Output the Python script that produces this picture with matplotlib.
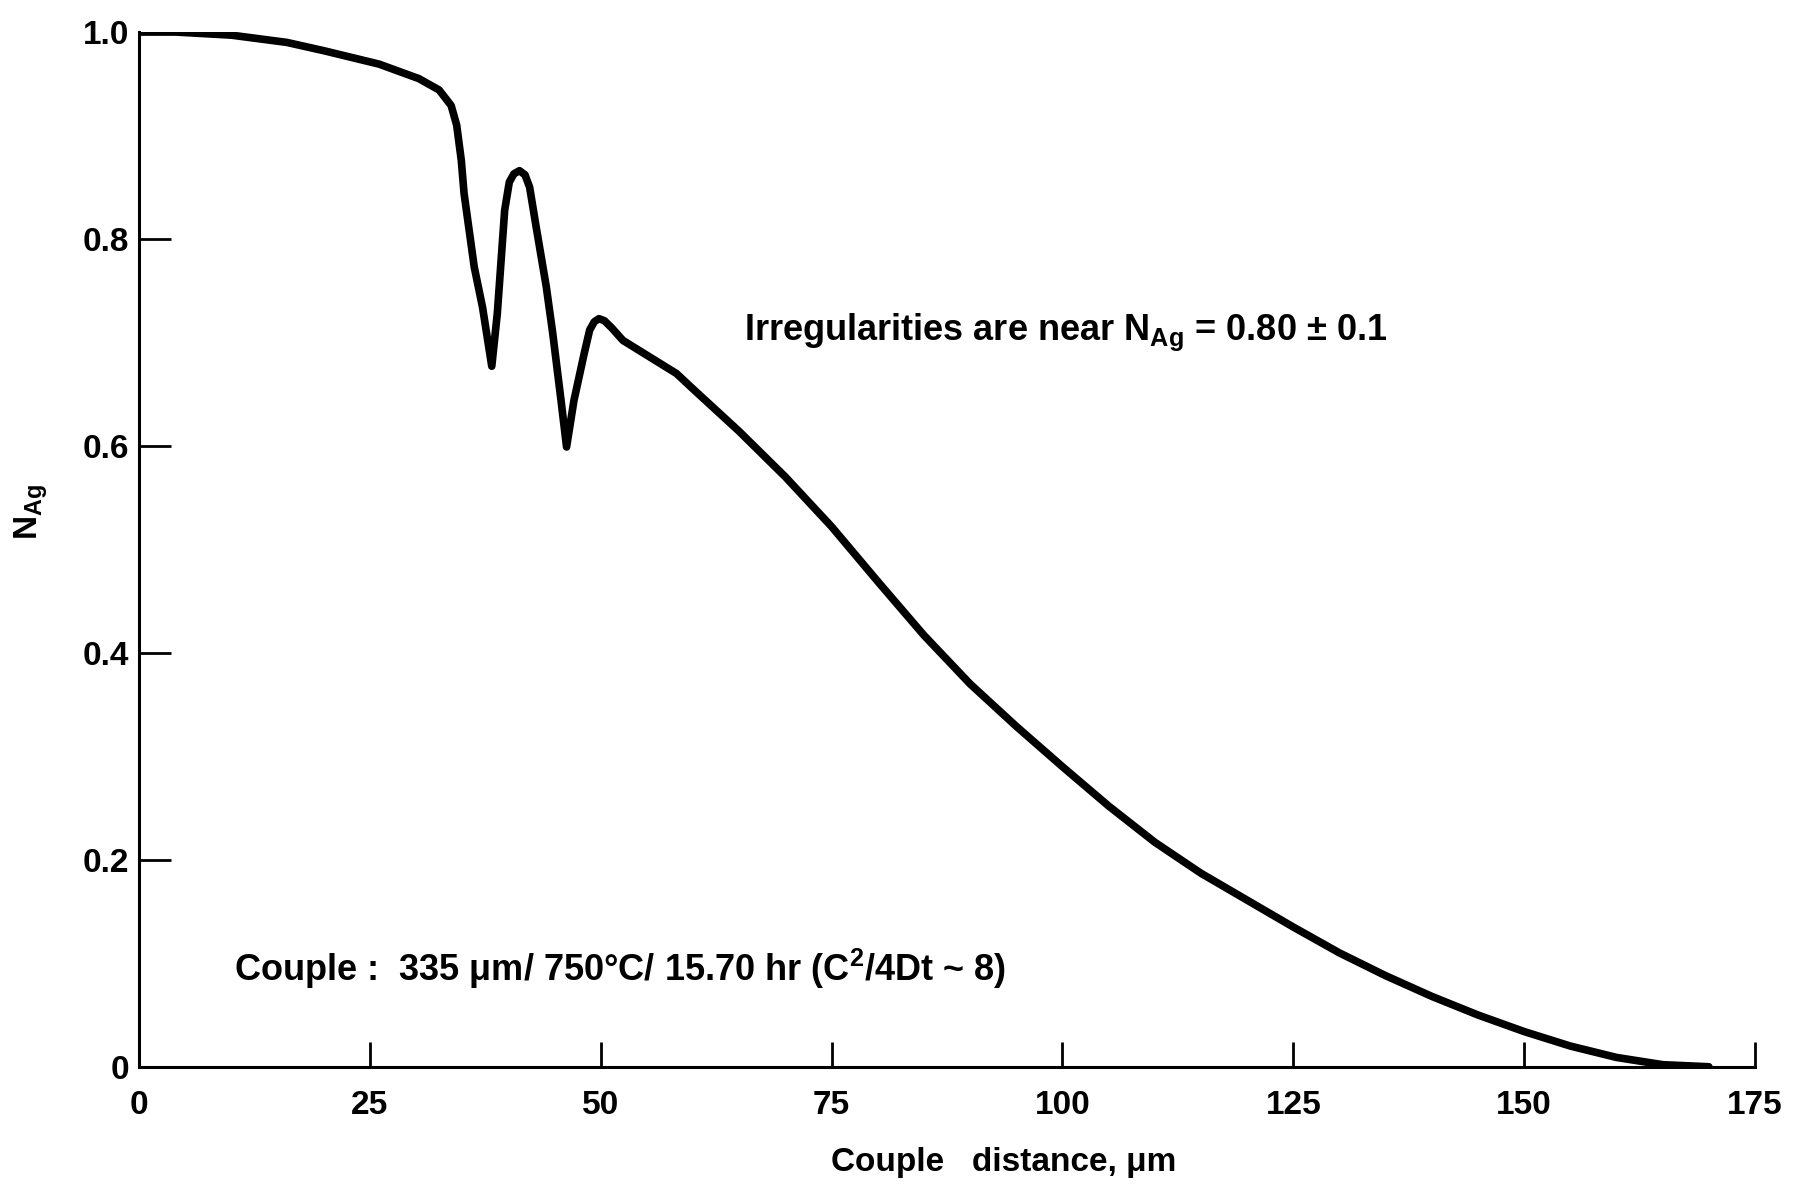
import matplotlib
matplotlib.use("Agg")
import matplotlib.pyplot as plt

plt.rcParams['font.family'] = ['Liberation Sans', 'DejaVu Sans']
plt.rcParams['font.weight'] = 'bold'
plt.rcParams['mathtext.default'] = 'regular'

# Curva N_Ag vs distancia
distance = [0, 4, 10, 16, 20, 26, 30.3, 32.5, 33.8, 34.4, 34.9, 35.2, 36.3, 37.2, 38.2,
            38.8, 39.6, 40.1, 40.6, 41.2, 41.8, 42.3, 43.0, 44.1, 44.8, 45.7, 46.3,
            47.1, 48.2, 48.8, 49.3, 49.8, 50.4, 51.2, 52.4, 55.3, 58.2,
            60, 65, 70, 75, 80, 85, 90, 95, 100, 105, 110, 115, 120,
            125, 130, 135, 140, 145, 150, 155, 160, 165, 170]
n_ag = [1.0, 1.0, 0.997, 0.99, 0.982, 0.969, 0.955, 0.944, 0.929, 0.91, 0.876, 0.844, 0.773, 0.734, 0.677,
        0.728, 0.828, 0.855, 0.863, 0.866, 0.862, 0.850, 0.812, 0.754, 0.709, 0.644, 0.599,
        0.644, 0.689, 0.712, 0.720, 0.723, 0.721, 0.714, 0.702, 0.686, 0.670,
        0.655, 0.614, 0.570, 0.522, 0.469, 0.417, 0.370, 0.329, 0.290, 0.252, 0.217, 0.187, 0.161,
        0.135, 0.110, 0.088, 0.068, 0.050, 0.034, 0.020, 0.009, 0.002, 0.0]

x_ticks = [0, 25, 50, 75, 100, 125, 150, 175]
y_ticks = [0, 0.2, 0.4, 0.6, 0.8, 1.0]
y_ticklabels = ['0', '0.2', '0.4', '0.6', '0.8', '1.0']

fig = plt.figure(figsize=(17.96, 11.87), dpi=100)
ax = fig.add_axes([0.0774, 0.1013, 0.8998, 0.8717])

ax.plot(distance, n_ag, color='black', linewidth=5.5, solid_joinstyle='round', solid_capstyle='round')

ax.set_xlim(0, 175)
ax.set_ylim(0, 1.0)
for s in ['top', 'right']:
    ax.spines[s].set_visible(False)
for s in ['left', 'bottom']:
    ax.spines[s].set_linewidth(2.2)

ax.set_xticks(x_ticks)
ax.set_xticklabels([str(t) for t in x_ticks])
ax.set_yticks(y_ticks)
ax.set_yticklabels(y_ticklabels)
ax.tick_params(axis='x', direction='in', length=18, width=2, labelsize=24, pad=17)
ax.tick_params(axis='y', direction='in', length=23, width=2, labelsize=24, pad=7)
# sem marcas no 0 e no 1.0 do eixo y
yt = ax.yaxis.get_major_ticks()
yt[0].tick1line.set_visible(False)
yt[-1].tick1line.set_visible(False)
ax.xaxis.get_major_ticks()[0].tick1line.set_visible(False)

ax.set_xlabel('Couple   distance, μm', fontsize=24, fontweight='bold')
ax.xaxis.set_label_coords(0.535, -0.078)
ax.set_ylabel('N$_{Ag}$', fontsize=24, fontweight='bold')
ax.yaxis.set_label_coords(-0.055, 0.536)

ax.text(65.5, 0.71, 'Irregularities are near N$_{Ag}$ = 0.80 ± 0.1', fontsize=26, va='center', ha='left')
ax.text(10.3, 0.095, 'Couple :  335 μm/ 750°C/ 15.70 hr (C$^{2}$/4Dt ~ 8)', fontsize=26, va='center', ha='left')

fig.savefig('out.png', dpi=100)
